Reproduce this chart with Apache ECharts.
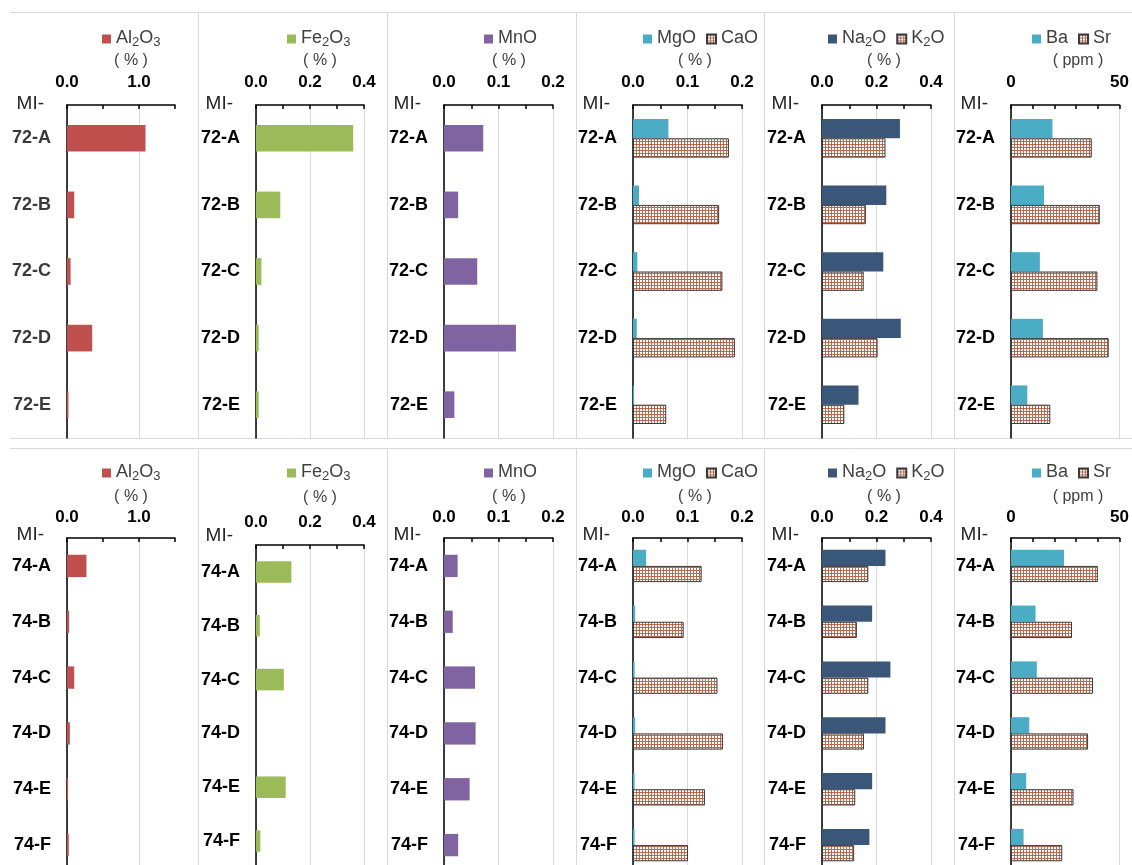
<!DOCTYPE html>
<html>
<head>
<meta charset="utf-8">
<script src="https://cdn.jsdelivr.net/npm/echarts@6/dist/echarts.min.js"></script>
<style>
  html, body { margin: 0; padding: 0; overflow: hidden; background: #ffffff; }
  #chart { width: 1132px; height: 880px; }
</style>
</head>
<body>
<div id="chart"></div>
<script>
// Sample IDs (MI- prefix is shown as the axis name)
const samples72 = ['72-A', '72-B', '72-C', '72-D', '72-E'];
const samples74 = ['74-A', '74-B', '74-C', '74-D', '74-E', '74-F'];

// MI-72 series: oxides in %, Ba / Sr in ppm
const al2o3_72 = [1.09, 0.10, 0.05, 0.35, 0.02];
const fe2o3_72 = [0.36, 0.09, 0.02, 0.01, 0.01];
const mno_72   = [0.072, 0.026, 0.061, 0.132, 0.019];
const mgo_72   = [0.065, 0.011, 0.008, 0.007, 0.002];
const cao_72   = [0.176, 0.158, 0.164, 0.187, 0.061];
const na2o_72  = [0.286, 0.236, 0.225, 0.289, 0.134];
const k2o_72   = [0.233, 0.161, 0.153, 0.204, 0.082];
const ba_72    = [19.1, 15.2, 13.3, 14.7, 7.5];
const sr_72    = [37.2, 40.9, 39.8, 45.0, 18.1];

// MI-74 series
const al2o3_74 = [0.27, 0.03, 0.10, 0.04, 0.015, 0.025];
const fe2o3_74 = [0.131, 0.014, 0.103, 0, 0.110, 0.016];
const mno_74   = [0.025, 0.016, 0.057, 0.058, 0.047, 0.026];
const mgo_74   = [0.024, 0.004, 0.003, 0.004, 0.003, 0.003];
const cao_74   = [0.126, 0.093, 0.155, 0.165, 0.132, 0.101];
const na2o_74  = [0.233, 0.184, 0.251, 0.233, 0.184, 0.174];
const k2o_74   = [0.170, 0.128, 0.170, 0.154, 0.122, 0.118];
const ba_74    = [24.4, 11.3, 11.9, 8.4, 7.0, 5.8];
const sr_74    = [40.0, 28.1, 37.8, 35.5, 28.8, 23.6];

// Axis scales for the six element groups
const axisMax     = [1.5, 0.4, 0.2, 0.2, 0.4, 50];
const tickStep    = [0.5, 0.1, 0.05, 0.05, 0.1, 10];
const labelStep   = [1, 0.2, 0.1, 0.1, 0.2, 50];
const labelDigits = [1, 1, 1, 1, 1, 0];
const unitLabels  = ['( % )', '( % )', '( % )', '( % )', '( % )', '( ppm )'];

// ---- layout ----
const FONT = '"Liberation Sans", Arial, sans-serif';
const colLeft    = [67, 256, 444, 633, 822, 1011];
const colWidth   = [108, 108, 109, 109, 109, 113];
const legendLeft = [102, 287, 484, 643, 828, 1032];
const unitX      = [131, 320, 509, 695, 884, 1078];
const rowGridTop    = [105, 538];
const rowGridHeight = [333, 335];
const rowLegendTop  = [29, 463];
const rowUnitY      = [61, 497];
const rowLabelMargin = [14, 12];
const rowNameGap    = [1, 3];
const separatorsX = [198.5, 387.5, 576.5, 764.5, 954.5];

const GRID_GREY = '#D9D9D9';

// small-grid hatch used for CaO, K2O and Sr
function hatchPattern() {
  const c = document.createElement('canvas');
  c.width = 3; c.height = 3;
  const g = c.getContext('2d');
  g.fillStyle = '#ffffff';
  g.fillRect(0, 0, 3, 3);
  g.fillStyle = '#B86A50';
  g.fillRect(0, 0, 3, 1);
  g.fillRect(0, 0, 1, 3);
  return c;
}
const hatch = { image: hatchPattern(), repeat: 'repeat' };

const solid = (color) => ({ color: color });
const hatched = { color: hatch, borderColor: '#3a3a3a', borderWidth: 1 };

function groups(row) {
  const r = row === 0;
  return [
    [['Al2O3', r ? al2o3_72 : al2o3_74, solid('#C0504D')]],
    [['Fe2O3', r ? fe2o3_72 : fe2o3_74, solid('#9BBB59')]],
    [['MnO',   r ? mno_72   : mno_74,   solid('#8064A2')]],
    [['MgO',   r ? mgo_72   : mgo_74,   solid('#4BACC6')], ['CaO', r ? cao_72 : cao_74, hatched]],
    [['Na2O',  r ? na2o_72  : na2o_74,  solid('#3A5779')], ['K2O', r ? k2o_72 : k2o_74, hatched]],
    [['Ba',    r ? ba_72    : ba_74,    solid('#4BACC6')], ['Sr',  r ? sr_72  : sr_74,  hatched]]
  ];
}

// chemical formula -> rich text with subscripted digits
function formula(name) {
  return name.split(/(\d+)/).filter(s => s.length)
    .map(s => /^\d+$/.test(s) ? '{s|' + s + '}' : '{b|' + s + '}').join('');
}

function isMajor(v, step) {
  const k = v / step;
  return Math.abs(k - Math.round(k)) < 1e-6;
}

function splitColors(c) {
  const n = Math.round(labelStep[c] / tickStep[c]);
  const arr = [GRID_GREY];
  for (let i = 1; i < n; i++) arr.push('rgba(0,0,0,0)');
  return arr;
}

const grid = [], xAxis = [], yAxis = [], series = [], legend = [], graphic = [];

for (let row = 0; row < 2; row++) {
  const g = groups(row);
  const cats = row === 0 ? samples72 : samples74;
  for (let c = 0; c < 6; c++) {
    const idx = row * 6 + c;
    let top = rowGridTop[row], height = rowGridHeight[row];
    let nameGap = rowNameGap[row], labelMargin = rowLabelMargin[row];
    if (row === 1 && c === 1) { top = 545; height = 323; nameGap = 9; labelMargin = 14; }

    grid.push({ left: colLeft[c], width: colWidth[c], top: top, height: height });

    xAxis.push({
      gridIndex: idx, type: 'value', position: 'top',
      min: 0, max: axisMax[c], interval: tickStep[c],
      axisLine: { show: true, lineStyle: { color: '#000', width: 1.5 } },
      axisTick: { show: true, inside: true, length: 4, lineStyle: { color: '#000', width: 1.5 } },
      axisLabel: {
        margin: labelMargin, fontFamily: FONT, fontWeight: 'bold', fontSize: 17, color: '#000',
        showMinLabel: true, showMaxLabel: true,
        formatter: (v) => isMajor(v, labelStep[c]) ? v.toFixed(labelDigits[c]) : ''
      },
      splitLine: { show: true, lineStyle: { color: splitColors(c), width: 1 } }
    });

    yAxis.push({
      gridIndex: idx, type: 'category', data: cats, inverse: true,
      axisLine: { show: true, lineStyle: { color: '#000', width: 1.5 } },
      axisTick: { show: false },
      splitLine: { show: false },
      axisLabel: { margin: 16, fontFamily: FONT, fontWeight: 'bold', fontSize: 18,
                   color: (row === 0 && c === 0) ? '#3a3a3a' : '#000' },
      name: 'MI-', nameLocation: 'start', nameGap: nameGap,
      nameTextStyle: { fontFamily: FONT, fontSize: 19, color: '#262626',
                       align: 'right', verticalAlign: 'middle', padding: [0, 23, 0, 0] }
    });

    const single = g[c].length === 1;
    g[c].forEach(([name, data, style]) => {
      series.push({
        type: 'bar', name: name, xAxisIndex: idx, yAxisIndex: idx, data: data,
        barWidth: single ? '40%' : '29%', barGap: '0%', silent: true,
        itemStyle: style
      });
    });

    legend.push({
      left: legendLeft[c], top: rowLegendTop[row], padding: 0,
      data: g[c].map(s => s[0]), icon: 'rect', itemWidth: 9, itemHeight: 9, itemGap: 10,
      selectedMode: false,
      formatter: formula,
      textStyle: {
        fontFamily: FONT, color: '#404040',
        rich: {
          b: { fontFamily: FONT, fontSize: 18, color: '#404040', verticalAlign: 'bottom', padding: [0, 0, 2, 0] },
          s: { fontFamily: FONT, fontSize: 13, color: '#404040', verticalAlign: 'bottom' }
        }
      }
    });

    graphic.push({
      type: 'text', x: unitX[c], y: (row === 1 && c === 1) ? 498 : rowUnitY[row], silent: true,
      style: { text: unitLabels[c], fontFamily: FONT, fontSize: 16, fill: '#404040',
               align: 'center', verticalAlign: 'middle',
               textAlign: 'center', textVerticalAlign: 'middle' }
    });
  }
}

// thin panel borders
const rowSpans = [[12, 438], [448, 880]];
separatorsX.forEach(x => {
  rowSpans.forEach(([y1, y2]) => {
    graphic.push({ type: 'line', silent: true, z: -1,
      shape: { x1: x, y1: y1, x2: x, y2: y2 }, style: { stroke: GRID_GREY, lineWidth: 1 } });
  });
});
[12.5, 438.5, 448.5].forEach(y => {
  graphic.push({ type: 'line', silent: true, z: -1,
    shape: { x1: 10, y1: y, x2: 1132, y2: y }, style: { stroke: GRID_GREY, lineWidth: 1 } });
});

const chart = echarts.init(document.getElementById('chart'), null, { renderer: 'canvas' });
chart.setOption({
  animation: false,
  textStyle: { fontFamily: FONT },
  grid: grid, xAxis: xAxis, yAxis: yAxis, series: series, legend: legend, graphic: graphic
});
</script>
</body>
</html>
